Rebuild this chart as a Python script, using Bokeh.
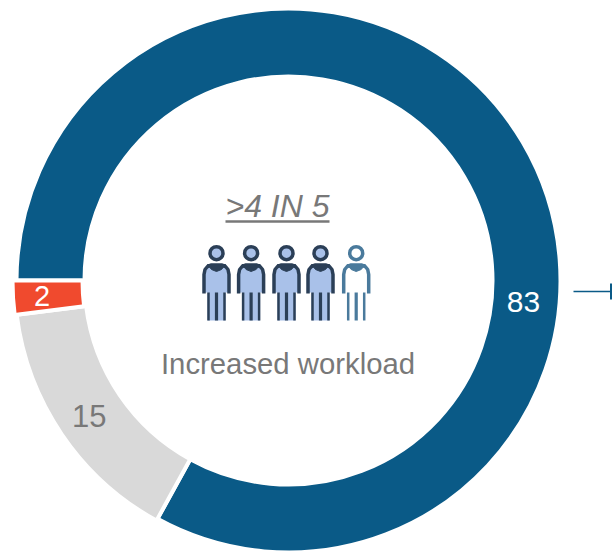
from bokeh.plotting import figure, ColumnDataSource
from bokeh.embed import file_html
from bokeh.resources import INLINE
from bokeh.core.properties import value
from bokeh.models import Range1d
import math

slice_names = ["Blue", "Gray", "Red"]
slice_values = [83, 15, 2]
slice_colors = ["#0a5a87", "#d9d9d9", "#f04a2e"]
slice_outer = [272, 274, 276]
slice_inner = [204, 204, 206]
label_colors = ["#ffffff", "#787878", "#ffffff"]
headline = ">4 IN 5"
caption = "Increased workload"
people_total = 5
people_filled = 4

W, H = 612, 553
p = figure(width=W, height=H, x_range=Range1d(0, W), y_range=Range1d(H, 0),
           output_backend="svg", toolbar_location=None, outline_line_color=None,
           min_border=0, border_fill_color="#ffffff", background_fill_color="#ffffff")
p.axis.visible = False
p.grid.visible = False

# ring, clockwise from 9 o'clock
cx, cy = 288, 280
total = sum(slice_values)
starts, ends, a = [], [], math.pi
for v in slice_values:
    starts.append(a)
    a -= v / total * 2 * math.pi
    ends.append(a)
src = ColumnDataSource(dict(x=[cx] * 3, y=[cy] * 3, s=starts, e=ends, o=slice_outer, i=slice_inner, c=slice_colors))
p.annular_wedge("x", "y", inner_radius="i", outer_radius="o", start_angle="s", end_angle="e",
                direction="clock", fill_color="c", line_color="#ffffff", line_width=4, source=src)

def label(x, y, t, col, size=30, **kw):
    p.text([x], [y], text=[t], text_color=col, text_font=value("Liberation Sans"), text_font_size=f"{size}px",
           text_align="center", text_baseline="middle", **kw)

label(523, 301.5, str(slice_values[0]), label_colors[0])
mid = (starts[1] + ends[1]) / 2
label(cx + 241 * math.cos(mid), cy - 241 * math.sin(mid), str(slice_values[1]), label_colors[1], size=31)
mid = (starts[2] + ends[2]) / 2
label(cx + 247 * math.cos(mid), cy - 247 * math.sin(mid), str(slice_values[2]), label_colors[2], size=29)

label(277, 205, headline, "#787878", size=32, text_font_style="italic")
p.line([225, 329], [221, 221], line_color="#787878", line_width=2.5)
label(287.5, 363, caption, "#787878", size=29.3)

# arrow at the right
p.line([573, 612], [291, 291], line_color="#0a5a87", line_width=1.5)
p.line([611, 611], [283, 299], line_color="#0a5a87", line_width=3)

# people
def person(x, fill, stroke):
    p.circle([x], [252.7], radius=6.5, fill_color=fill, line_color=stroke, line_width=3.5)
    fx = [-13, -13, -10, -5, 5, 10, 13, 13, 9, 9, -9, -9]
    fy = [292, 273, 266, 264, 264, 266, 273, 292, 292, 320, 320, 292]
    p.patch([x + v for v in fx], fy, fill_color=fill, line_color=None)
    sx = [-12.5, -12.5, -11.5, -9, -5, 5, 9, 11.5, 12.5, 12.5]
    sy = [293, 274, 269, 266, 264.5, 264.5, 266, 269, 274, 293]
    p.line([x + v for v in sx], sy, line_color=stroke, line_width=3.5)
    p.patch([x - 9, x + 9, x + 5, x, x - 5], [264, 264, 269, 271, 269], fill_color=stroke, line_color=stroke)
    for dx, w in [(-8, 2.5), (0, 3.2), (8, 2.5)]:
        p.line([x + dx, x + dx], [292, 320], line_color=stroke, line_width=w)

centers = [216, 250.6, 286, 320, 355.7]
for i in range(people_total):
    if i < people_filled:
        person(centers[i], "#a9c1e9", "#2b3f57")
    else:
        person(centers[i], "#ffffff", "#4a7a9c")

open("out.html", "w").write(file_html(p, INLINE))
